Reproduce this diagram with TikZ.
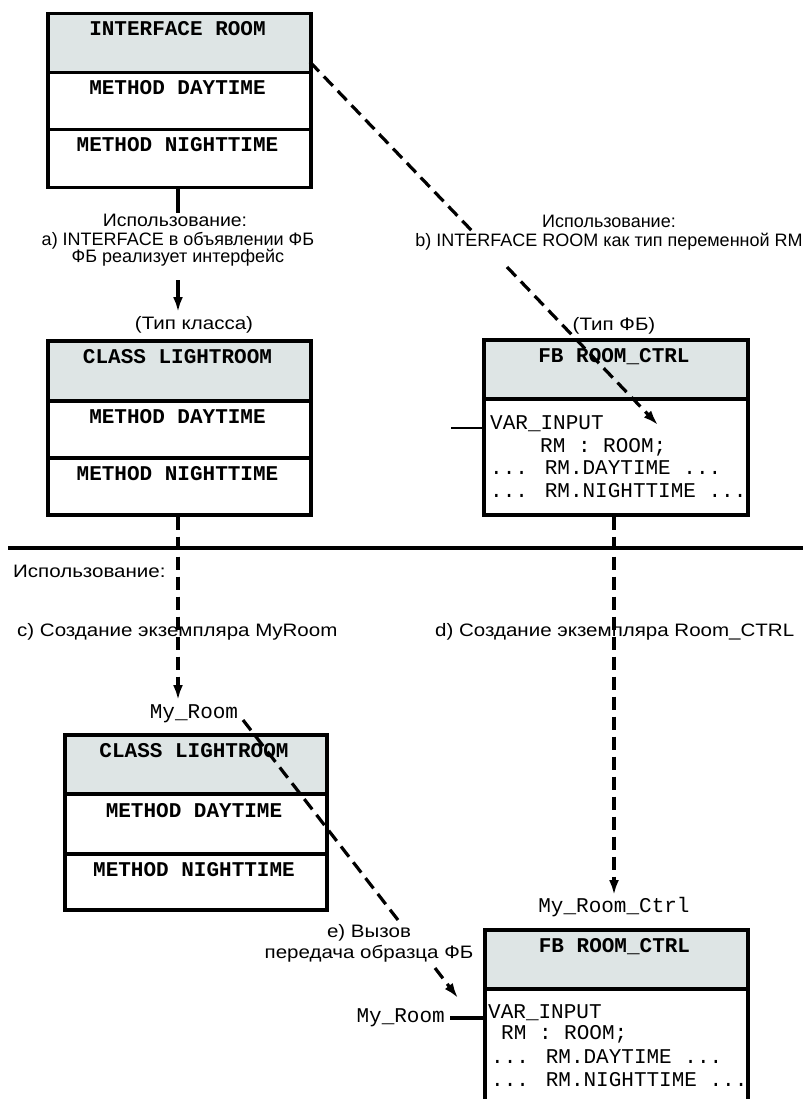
\documentclass[tikz,border=0pt]{standalone}
\usepackage{fontspec}
\usepackage{graphicx}
\setmainfont{Liberation Sans}
\newfontfamily\swide[FakeStretch=1.14]{Liberation Sans}
\newfontfamily\smid[FakeStretch=1.08]{Liberation Sans}
\newfontfamily\monof{Liberation Mono}
\usetikzlibrary{arrows.meta}
\definecolor{hdrgray}{RGB}{222,229,229}
\begin{document}
\begin{tikzpicture}[x=1pt,y=-1pt,
  comp/.style={draw,line width=3.5pt,inner sep=0pt,anchor=north west},
  hdr/.style={comp,fill=hdrgray},
  mb/.style={font=\monof\bfseries\fontsize{21}{22}\selectfont,anchor=base,inner sep=0pt},
  mr/.style={font=\monof\fontsize{21}{22}\selectfont,anchor=base west,inner sep=0pt},
  mn/.style={font=\monof\fontsize{21}{22}\selectfont,anchor=base,inner sep=0pt},
  lbl/.style={font=\swide\fontsize{18}{19}\selectfont,anchor=base,inner sep=0pt},
  lbln/.style={font=\fontsize{18}{19}\selectfont,anchor=base,inner sep=0pt},
  lblm/.style={font=\smid\fontsize{18}{19}\selectfont,anchor=base,inner sep=0pt},
  dl/.style={line width=3.2pt,dash pattern=on 13pt off 7pt},
  sl/.style={line width=3.2pt},
  tip/.style={-{Latex[length=15pt,width=10pt]}}
]
\clip (0,0) rectangle (803,1099);
\fill[white] (0,0) rectangle (803,1099);

% ---- INTERFACE ROOM
\node[hdr,minimum width=263pt,minimum height=59pt] (i1) at (46,12) {};
\node[comp,minimum width=263pt,minimum height=57pt] (i2) at (46,71) {};
\node[comp,minimum width=263pt,minimum height=58pt] (i3) at (46,128) {};
\node[mb] (i1t) at (177.5,36) {INTERFACE ROOM};
\node[mb] (i2t) at (177.5,95) {METHOD DAYTIME};
\node[mb] (i3t) at (177.5,152) {METHOD NIGHTTIME};

% ---- CLASS LIGHTROOM (type)
\node[hdr,minimum width=263pt,minimum height=60pt] (c1) at (46,339) {};
\node[comp,minimum width=263pt,minimum height=57pt] (c2) at (46,399) {};
\node[comp,minimum width=263pt,minimum height=57pt] (c3) at (46,456) {};
\node[mb] (c1t) at (177.5,363) {CLASS LIGHTROOM};
\node[mb] (c2t) at (177.5,423) {METHOD DAYTIME};
\node[mb] (c3t) at (177.5,480) {METHOD NIGHTTIME};

% ---- FB ROOM_CTRL (type)
\node[hdr,minimum width=264pt,minimum height=59pt] (f1) at (482,338) {};
\node[comp,minimum width=264pt,minimum height=116pt] (f2) at (482,397) {};
\node[mb] (f1t) at (614,362) {FB ROOM\_CTRL};
\node[mr] (f2a) at (490,429) {VAR\_INPUT};
\node[mr] (f2b) at (540,452) {RM : ROOM;};
\node[mr] (f2c) at (490,474) {... RM.DAYTIME ...};
\node[mr] (f2d) at (490,497) {... RM.NIGHTTIME ...};
\coordinate (fin) at (451,428);
\draw[line width=2.2pt] (fin) -- (f2.west |- fin);

% ---- CLASS LIGHTROOM (instance)
\node[hdr,minimum width=262pt,minimum height=59pt] (m1) at (63,733) {};
\node[comp,minimum width=262pt,minimum height=60pt] (m2) at (63,792) {};
\node[comp,minimum width=262pt,minimum height=56pt] (m3) at (63,852) {};
\node[mb] (m1t) at (194,757) {CLASS LIGHTROOM};
\node[mb] (m2t) at (194,817) {METHOD DAYTIME};
\node[mb] (m3t) at (194,876) {METHOD NIGHTTIME};

% ---- FB ROOM_CTRL (instance)
\node[hdr,minimum width=263pt,minimum height=59pt] (g1) at (483,928) {};
\node[comp,minimum width=263pt,minimum height=125pt] (g2) at (483,987) {};
\node[mb] (g1t) at (614.5,952) {FB ROOM\_CTRL};
\node[mr] (g2a) at (488,1018) {VAR\_INPUT};
\node[mr] (g2b) at (501,1039) {RM : ROOM;};
\node[mr] (g2c) at (491,1063) {... RM.DAYTIME ...};
\node[mr] (g2d) at (491,1086) {... RM.NIGHTTIME ...};

% ---- labels
\node[lblm] (a1) at (175,227) {Использование:};
\node[lbln] (a2) at (178,245) {a) INTERFACE в объявлении ФБ};
\node[lbln] (a3) at (178,262) {ФБ реализует интерфейс};
\node[lbl] (tk) at (194,329) {(Тип класса)};
\node[lbln] (b1) at (609,228) {Использование:};
\node[lbln] (b2) at (609,247) {b) INTERFACE ROOM как тип переменной RM};
\node[lbl] (tf) at (614,330) {(Тип ФБ)};
\node[lbl,anchor=base west] (u) at (13,577) {Использование:};
\node[lbl,anchor=base west] (cl) at (17,636) {c) Создание экземпляра MyRoom};
\node[lbl,anchor=base west] (dlb) at (435,636) {d) Создание экземпляра Room\_CTRL};
\node[lbl] (e1) at (369,937) {е) Вызов};
\node[lbl] (e2) at (369,958) {передача образца ФБ};
\node[mn] (mr1) at (194,718) {My\_Room};
\node[mn] (mrc) at (614,912) {My\_Room\_Ctrl};
\node[mn,anchor=base east] (mr2) at (445,1022) {My\_Room};
\coordinate (mrs) at (450,1018);
\draw[sl] (mrs) -- (g2.west |- mrs);

% ---- separator
\coordinate (sepL) at (8,548);
\coordinate (sepR) at (803,548);
\draw[line width=3.2pt] (sepL) -- (sepR);

% ---- connector a (solid)
\coordinate (aEnd) at (178,213);
\coordinate (aStart) at (178,280);
\coordinate (aTip) at (178,312);
\draw[sl] (i3.south -| aEnd) -- (aEnd);
\draw[sl,tip] (aStart) -- (aTip);

% ---- connector b (dashed)
\coordinate (bS) at (310,62);
\coordinate (bG1) at (473,232);
\coordinate (bG2) at (507,267);
\coordinate (bT) at (658,425);
\draw[dl] (bS) -- (bG1);
\draw[dl,tip] (bG2) -- (bT);

% ---- connector c (dashed)
\coordinate (cT) at (178,700);
\draw[dl,tip] (c3.south -| cT) -- (cT);

% ---- connector d (dashed)
\coordinate (dT) at (614,895);
\draw[dl,tip] (f2.south -| dT) -- (dT);

% ---- connector e (dashed)
\coordinate (eS) at (243,720);
\coordinate (eG1) at (398,920);
\coordinate (eG2) at (435,968);
\coordinate (eT) at (458,998);
\draw[dl] (eS) -- (eG1);
\draw[dl,tip] (eG2) -- (eT);
\end{tikzpicture}
\end{document}
